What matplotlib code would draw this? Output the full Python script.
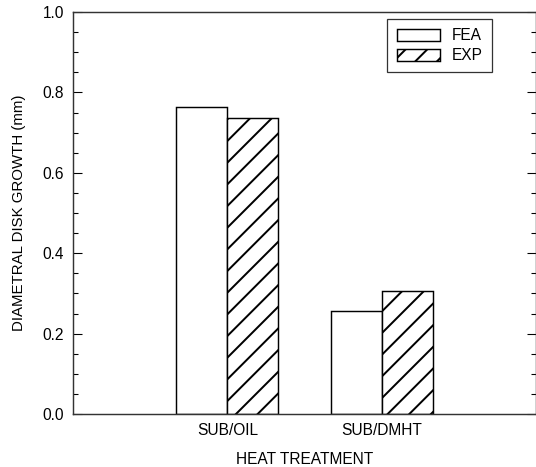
import matplotlib
matplotlib.use('Agg')
import matplotlib.pyplot as plt
import numpy as np

## data
treatments = ['SUB/OIL', 'SUB/DMHT']
fea = [0.764, 0.256]
exp = [0.736, 0.306]

plt.rcParams['font.family'] = ['Liberation Sans', 'DejaVu Sans']
plt.rcParams['hatch.linewidth'] = 1.1

dpi = 130
fig = plt.figure(figsize=(536/dpi, 467/dpi), dpi=dpi)
ax = fig.add_axes([73/536, 53/467, 463/536, 402/467])

x = np.arange(1, len(treatments)+1)
w = 0.33
ax.bar(x - w/2, fea, w, color='white', edgecolor='black', linewidth=0.8, label='FEA')
ax.bar(x + w/2, exp, w, color='white', edgecolor='black', linewidth=0.8, hatch='//', label='EXP')

ax.set_xlim(0, 3)
ax.set_ylim(0, 1.0)
ax.set_xticks(x)
ax.set_xticklabels(treatments)
ax.tick_params(axis='x', length=0, pad=5, labelsize=8.6)

ax.set_yticks(np.arange(0, 1.01, 0.2))
ax.set_yticks(np.arange(0, 1.01, 0.05), minor=True)
ax.yaxis.set_major_formatter(matplotlib.ticker.FormatStrFormatter('%.1f'))
ax.tick_params(axis='y', which='both', direction='in', right=True, labelsize=8.6, pad=5)
ax.tick_params(axis='y', which='major', length=5, width=0.6)
ax.tick_params(axis='y', which='minor', length=3, width=0.6)

for s in ax.spines.values():
    s.set_linewidth(0.8)
    s.set_color('#333333')

ax.set_xlabel('HEAT TREATMENT', fontsize=8.6, labelpad=8)
ax.set_ylabel('DIAMETRAL DISK GROWTH (mm)', fontsize=8.3, labelpad=9)

leg = ax.legend(loc='upper right', bbox_to_anchor=(0.905, 0.9826), borderaxespad=0,
                fancybox=False, edgecolor='black', fontsize=8.6, handlelength=2.8,
                handleheight=0.8, borderpad=0.6, labelspacing=0.3, handletextpad=0.75)
leg.get_frame().set_linewidth(0.7)

fig.savefig('out.png', dpi=dpi)
